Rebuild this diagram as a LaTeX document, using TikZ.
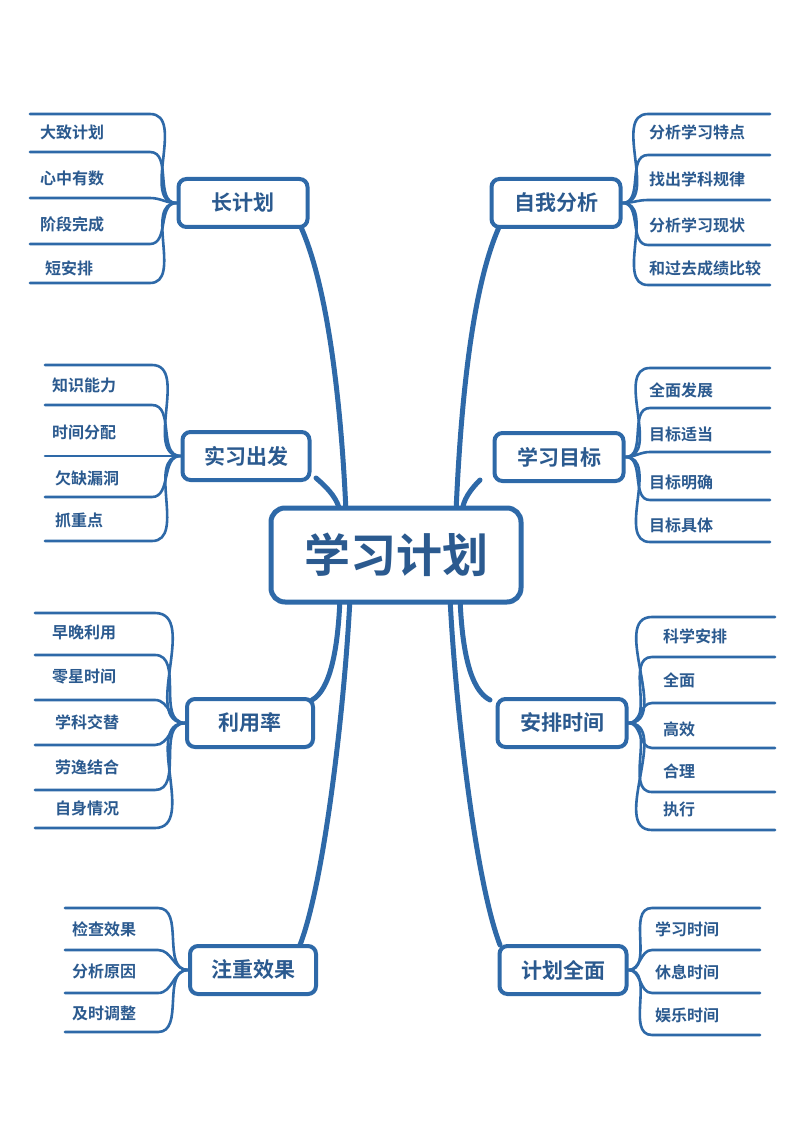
\documentclass[tikz,border=0pt]{standalone}
\usepackage{fontspec}
\newfontfamily\cjk{Noto Sans CJK SC Bold}
\definecolor{mb}{HTML}{2E69A8}
\definecolor{tb}{HTML}{2B5A8F}
\begin{document}
\begin{tikzpicture}[x=1pt,y=-1pt,
  trunk/.style={draw=mb,line width=5pt,line cap=round},
  leaf/.style={draw=mb,line width=2.6pt,line cap=round},
  branch/.style={draw=mb,line width=4pt,rounded corners=8pt,fill=white,text=tb,font=\cjk\fontsize{21}{24}\selectfont,minimum height=48pt,inner sep=0pt},
  lab/.style={text=tb,font=\cjk\fontsize{16}{19}\selectfont,anchor=west,inner sep=0pt}]
\useasboundingbox (0,0) rectangle (800,1131);
\fill[white] (0,0) rectangle (800,1131);
% trunks
\coordinate (t1) at (300,225); \coordinate (t2) at (316,478); \coordinate (t3) at (312,700); \coordinate (t4) at (300,945);
\coordinate (s1) at (500,225); \coordinate (s2) at (480,480); \coordinate (s3) at (490,700); \coordinate (s4) at (500,945);
\draw[trunk] (t1) .. controls (330,290) and (342,420) .. (346,512);
\draw[trunk] (t2) .. controls (330,490) and (338,500) .. (340,512);
\draw[trunk] (t3) .. controls (330,690) and (338,650) .. (340,598);
\draw[trunk] (t4) .. controls (325,880) and (345,700) .. (350,598);
\draw[trunk] (s1) .. controls (470,290) and (460,420) .. (456,512);
\draw[trunk] (s2) .. controls (470,490) and (463,500) .. (462,512);
\draw[trunk] (s3) .. controls (470,690) and (462,650) .. (460,598);
\draw[trunk] (s4) .. controls (475,880) and (455,700) .. (450,598);
% branch nodes
\node[branch,minimum width=129pt] (b1) at (243,203) {长计划};
\node[branch,minimum width=127pt] (b2) at (246,456) {实习出发};
\node[branch,minimum width=126pt] (b3) at (250,723) {利用率};
\node[branch,minimum width=126pt] (b4) at (253,970) {注重效果};
\node[branch,minimum width=129pt] (c1) at (556,203) {自我分析};
\node[branch,minimum width=129pt] (c2) at (559,457) {学习目标};
\node[branch,minimum width=129pt] (c3) at (562,723) {安排时间};
\node[branch,minimum width=127pt] (c4) at (563,970) {计划全面};
\node[branch,minimum width=250pt,minimum height=94pt,rounded corners=14pt,line width=5pt,font=\cjk\fontsize{46}{50}\selectfont] (m) at (396,555) {学习计划};
% leaves left
\foreach \y in {114,152,198,244,283} \draw[leaf] (b1.west) to[out=180,in=0] (150,\y) -- (30,\y);
\foreach \y in {365,405,456,497,541} \draw[leaf] (b2.west) to[out=180,in=0] (152,\y) -- (45,\y);
\foreach \y in {613,655,700,745,790,828} \draw[leaf] (b3.west) to[out=180,in=0] (155,\y) -- (35,\y);
\foreach \y in {908,950,993,1032} \draw[leaf] (b4.west) to[out=180,in=0] (158,\y) -- (65,\y);
% leaves right
\foreach \y in {114,155,200,245,285} \draw[leaf] (c1.east) to[out=0,in=180] (648,\y) -- (770,\y);
\foreach \y in {368,408,452,500,542} \draw[leaf] (c2.east) to[out=0,in=180] (650,\y) -- (770,\y);
\foreach \y in {617,657,703,748,792,830} \draw[leaf] (c3.east) to[out=0,in=180] (652,\y) -- (775,\y);
\foreach \y in {908,950,993,1035} \draw[leaf] (c4.east) to[out=0,in=180] (652,\y) -- (760,\y);
% labels
\node[lab] (l11) at (40,132) {大致计划};
\node[lab] (l12) at (40,178) {心中有数};
\node[lab] (l13) at (40,224) {阶段完成};
\node[lab] (l14) at (45,268) {短安排};
\node[lab] (l21) at (52,385) {知识能力};
\node[lab] (l22) at (52,432) {时间分配};
\node[lab] (l23) at (55,478) {欠缺漏洞};
\node[lab] (l24) at (55,520) {抓重点};
\node[lab] (l31) at (52,632) {早晚利用};
\node[lab] (l32) at (52,677) {零星时间};
\node[lab] (l33) at (55,722) {学科交替};
\node[lab] (l34) at (55,767) {劳逸结合};
\node[lab] (l35) at (55,808) {自身情况};
\node[lab] (l41) at (72,929) {检查效果};
\node[lab] (l42) at (72,971) {分析原因};
\node[lab] (l43) at (72,1013) {及时调整};
\node[lab] (r11) at (649,132) {分析学习特点};
\node[lab] (r12) at (649,179) {找出学科规律};
\node[lab] (r13) at (649,225) {分析学习现状};
\node[lab] (r14) at (649,268) {和过去成绩比较};
\node[lab] (r21) at (649,390) {全面发展};
\node[lab] (r22) at (649,434) {目标适当};
\node[lab] (r23) at (649,482) {目标明确};
\node[lab] (r24) at (649,525) {目标具体};
\node[lab] (r31) at (663,636) {科学安排};
\node[lab] (r32) at (663,680) {全面};
\node[lab] (r33) at (663,729) {高效};
\node[lab] (r34) at (663,771) {合理};
\node[lab] (r35) at (663,809) {执行};
\node[lab] (r41) at (655,929) {学习时间};
\node[lab] (r42) at (655,972) {休息时间};
\node[lab] (r43) at (655,1015) {娱乐时间};
\end{tikzpicture}
\end{document}
